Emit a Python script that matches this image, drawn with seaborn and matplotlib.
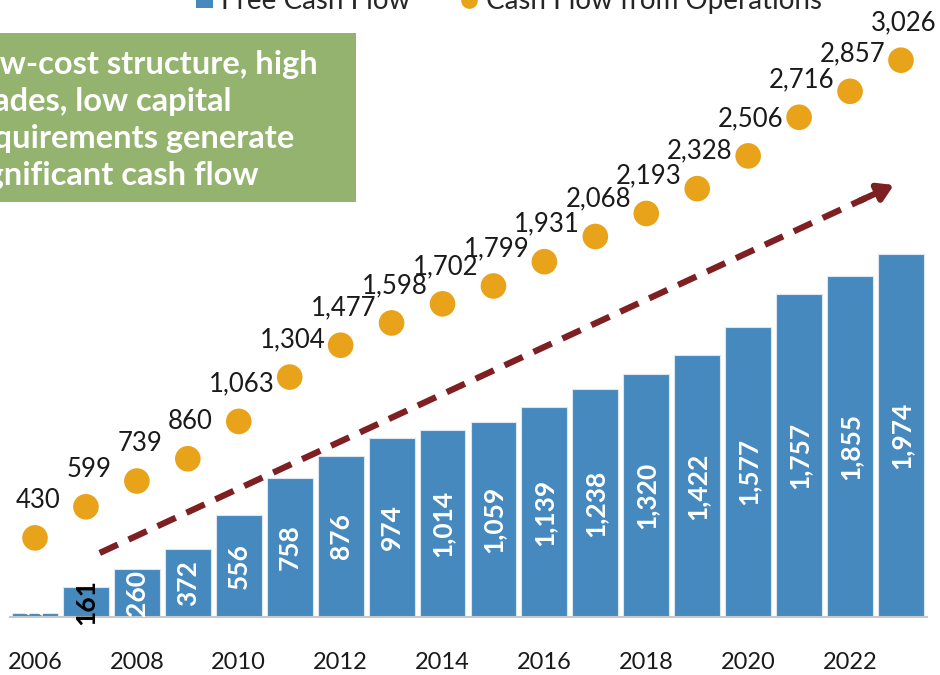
import matplotlib
matplotlib.use("Agg")
import matplotlib.pyplot as plt
from matplotlib.lines import Line2D
from matplotlib.patches import Patch, Rectangle
import pandas as pd
import seaborn as sns

sns.set_style("white")
plt.rcParams["font.family"] = ["Lato", "DejaVu Sans"]

# ---------- data ----------
years = list(range(2006, 2024))
free_cash_flow = [22, 161, 260, 372, 556, 758, 876, 974, 1014, 1059, 1139, 1238,
                  1320, 1422, 1577, 1757, 1855, 1974]
cash_from_ops = [430, 599, 739, 860, 1063, 1304, 1477, 1598, 1702, 1799, 1931, 2068,
                 2193, 2328, 2506, 2716, 2857, 3026]
tick_years = list(range(2006, 2023, 2))
callout_lines = ["Low-cost structure, high", "grades, low capital",
                 "requirements generate", "significant cash flow"]

BAR_BLUE = "#4589BF"
DOT_ORANGE = "#E8A31B"
ARROW_RED = "#7E1F22"
BOX_GREEN = "#94B36E"

df = pd.DataFrame({"year": years, "fcf": free_cash_flow, "cfo": cash_from_ops})

W, H = 940, 675
fig = plt.figure(figsize=(W / 100, H / 100), dpi=100)

# axes placed so the plot runs right to the figure edges (reference is a crop)
px_per_year = 50.94
x0_px, base_px = 35, 617
ax = fig.add_axes([0, (H - base_px) / H, 1, base_px / H])
ax.set_xlim(2006 - x0_px / px_per_year, 2006 + (W - x0_px) / px_per_year)
ax.set_ylim(0, base_px / 0.184)

# ---------- bars ----------
sns.barplot(data=df, x="year", y="fcf", native_scale=True, width=0.9,
            color=BAR_BLUE, saturation=1, edgecolor="#dbe6f1", linewidth=0.8, ax=ax)
labels = ax.bar_label(ax.containers[0], labels=[f"{v:,}" for v in free_cash_flow],
                      label_type="center", rotation=90, color="white",
                      fontsize=19, fontweight="bold")
labels[1].set_color("black")

# ---------- dots ----------
sns.scatterplot(data=df, x="year", y="cfo", color=DOT_ORANGE, s=340,
                edgecolor="none", zorder=4, ax=ax)
for yr, v in zip(years, cash_from_ops):
    ax.annotate(f"{v:,}", (yr, v), xytext=(2, 27), textcoords="offset points",
                ha="center", va="center", fontsize=18.5, color="#1a1a1a")

# ---------- dashed trend arrow ----------
start, end = (2007.27, 348), (2022.86, 2348)
ax.plot([start[0], 2022.3], [start[1], 2276], color=ARROW_RED, lw=4.5,
        ls=(0, (3.2, 1.9)), solid_capstyle="butt", zorder=3)
ax.annotate("", xy=end, xytext=(2022.2, 2263),
            arrowprops=dict(arrowstyle="-|>,head_length=0.9,head_width=0.55",
                            color=ARROW_RED, lw=4.5, shrinkA=0, shrinkB=0), zorder=3)

# ---------- axes styling ----------
sns.despine(ax=ax, left=True, top=True, right=True)
ax.spines["bottom"].set_color("#c8c8c8")
ax.spines["bottom"].set_linewidth(1.5)
ax.spines["bottom"].set_bounds(2005.51, 2023.52)
ax.set_xticks(tick_years)
ax.set_xticklabels([str(y) for y in tick_years])
ax.tick_params(axis="x", length=0, pad=25, labelsize=17, labelcolor="#1a1a1a")
ax.set_yticks([])
ax.set_xlabel("")
ax.set_ylabel("")

# ---------- callout box ----------
fig.add_artist(Rectangle((0, 1 - 202 / H), 356 / W, 169 / H, transform=fig.transFigure,
                         facecolor=BOX_GREEN, edgecolor="none"))
fig.text(-36 / W, 1 - 120 / H, "\n".join(callout_lines), ha="left", va="center",
         color="white", fontsize=23.5, fontweight="bold", linespacing=1.33)

# ---------- legend (cut by the top edge) ----------
handles = [Patch(facecolor=BAR_BLUE, edgecolor="none"),
           Line2D([], [], marker="o", ls="none", color=DOT_ORANGE, markersize=11)]
fig.legend(handles, ["Free Cash Flow", "Cash Flow from Operations"], ncol=2,
           loc="center", bbox_to_anchor=(509 / W, 1 - 1 / H), frameon=False,
           fontsize=20, handlelength=0.6, handleheight=0.6, handletextpad=0.3,
           columnspacing=1.8)

fig.savefig("out.png", dpi=100)
